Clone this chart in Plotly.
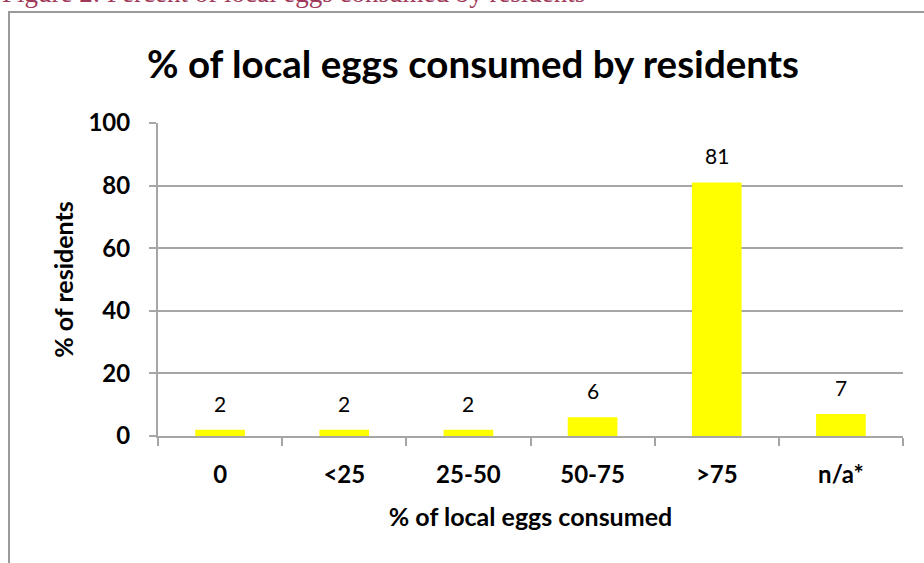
import plotly.graph_objects as go

# Survey results: share of residents by proportion of locally produced eggs they eat
categories = ["0", "<25", "25-50", "50-75", ">75", "n/a*"]
residents_pct = [2, 2, 2, 6, 81, 7]
y_ticks = [0, 20, 40, 60, 80, 100]

W, H = 924, 563
L, R, T, B = 158, 21, 123, 127
plot_w = W - L - R
plot_h = H - T - B


def px_x(x):
    return (x - L) / plot_w


def px_y(y):
    return (H - B - y) / plot_h


FONT = "Lato"
GRID = "#a6a6a6"

fig = go.Figure()
fig.add_trace(go.Bar(
    x=categories,
    y=residents_pct,
    marker=dict(color="#ffff00", line=dict(width=0)),
    width=0.4,
    hoverinfo="x+y",
))

# value labels above each bar
for c, v in zip(categories, residents_pct):
    fig.add_annotation(
        x=c, y=v, xref="x", yref="y", text=str(v), showarrow=False,
        yanchor="bottom", yshift=12,
        font=dict(family=FONT, size=21, color="#000000"),
    )

# figure caption above the chart frame
fig.add_annotation(
    x=px_x(0), y=px_y(10), xref="paper", yref="paper",
    xanchor="left", yanchor="bottom", showarrow=False,
    text="Figure 2: Percent of local eggs consumed by residents",
    font=dict(family="Liberation Serif", size=27, color="#a03a5a"),
)

# chart frame
fig.add_shape(
    type="rect", xref="paper", yref="paper",
    x0=px_x(9), x1=px_x(W + 10), y0=px_y(H + 10), y1=px_y(12),
    line=dict(color="#9a9a9a", width=2), fillcolor="rgba(0,0,0,0)",
    layer="below",
)

fig.update_layout(
    width=W, height=H,
    margin=dict(l=L, r=R, t=T, b=B),
    paper_bgcolor="white", plot_bgcolor="white",
    showlegend=False,
    bargap=0.6,
    title=dict(
        text="<b>% of local eggs consumed by residents</b>",
        x=473 / W, xanchor="center", y=1 - 65 / H, yanchor="middle",
        font=dict(family=FONT, size=38.5, color="#000000"),
    ),
    xaxis=dict(
        showline=True, linecolor=GRID, linewidth=2,
        ticks="outside", tickson="boundaries", ticklen=8, tickwidth=2, tickcolor=GRID,
        ticklabelstandoff=16,
        tickfont=dict(family=FONT, size=24, color="#000000", weight="bold"),
        title=dict(text="<b>% of local eggs consumed</b>", standoff=22,
                   font=dict(family=FONT, size=25, color="#000000")),
        showgrid=False,
    ),
    yaxis=dict(
        range=[0, 100], tickvals=y_ticks,
        showline=True, linecolor=GRID, linewidth=2,
        ticks="outside", ticklen=7, tickwidth=2, tickcolor=GRID,
        ticklabelstandoff=14,
        showgrid=True, gridcolor=GRID, gridwidth=2,
        zeroline=False,
        tickfont=dict(family=FONT, size=24, color="#000000", weight="bold"),
        title=dict(text="<b>% of residents</b>", standoff=8,
                   font=dict(family=FONT, size=25, color="#000000")),
    ),
)

fig.write_html("out.html")
